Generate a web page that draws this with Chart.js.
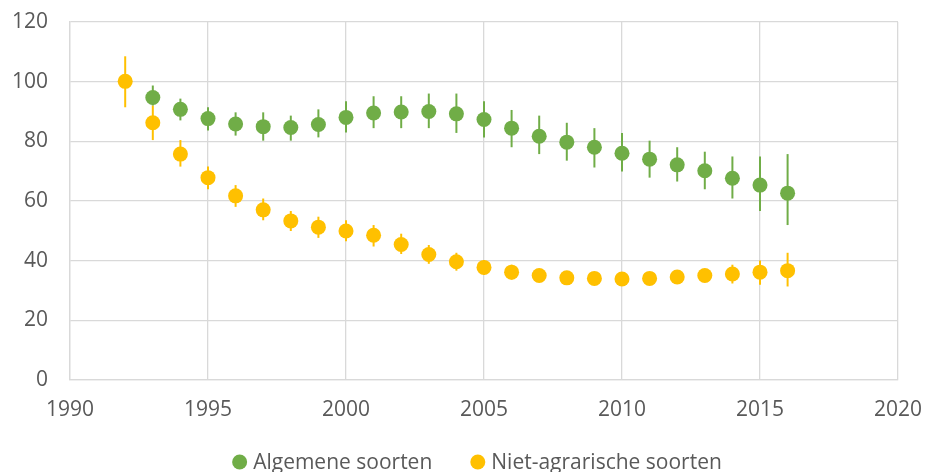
<html>
  <head>
    <script src="https://cdn.jsdelivr.net/npm/chart.js"></script>
    <style>
      body { margin: 0; background: #fff; }
      #wrap { width: 926px; height: 472px; }
    </style>
  </head>
  <body>
    <div id="wrap"><canvas id="graph"></canvas></div>
    <script>
      // jaren
      var years = [1992, 1993, 1994, 1995, 1996, 1997, 1998, 1999, 2000, 2001, 2002, 2003, 2004,
                   2005, 2006, 2007, 2008, 2009, 2010, 2011, 2012, 2013, 2014, 2015, 2016];

      // Algemene soorten (geen waarde in 1992)
      var algemeen     = [null, 94.7, 90.7, 87.6, 85.8, 84.9, 84.6, 85.6, 88.0, 89.5, 89.8, 90.0, 89.2,
                          87.3, 84.4, 81.7, 79.7, 78.0, 76.0, 74.0, 72.1, 70.1, 67.6, 65.3, 62.6];
      var algemeenLaag = [null, 92.0, 87.0, 83.6, 81.9, 80.2, 80.2, 81.3, 82.9, 84.4, 84.4, 84.4, 82.8,
                          81.3, 78.0, 75.7, 73.5, 71.2, 69.9, 67.8, 66.5, 63.9, 60.8, 56.6, 51.9];
      var algemeenHoog = [null, 98.7, 94.3, 91.4, 89.7, 89.7, 88.6, 90.7, 93.4, 95.1, 95.1, 96.0, 96.0,
                          93.4, 90.5, 88.6, 86.2, 84.4, 82.8, 80.2, 78.0, 76.5, 74.9, 74.9, 75.7];

      // Niet-agrarische soorten
      var nietAgr     = [100.1, 86.2, 75.7, 67.8, 61.7, 57.0, 53.3, 51.2, 49.9, 48.5, 45.4, 42.0, 39.6,
                         37.7, 36.1, 35.0, 34.2, 34.0, 33.8, 34.0, 34.5, 35.0, 35.5, 36.1, 36.6];
      var nietAgrLaag = [91.4, 80.4, 71.5, 63.9, 58.0, 53.5, 49.9, 47.6, 46.5, 44.7, 42.2, 38.9, 36.6,
                         35.2, 33.6, 33.0, 32.2, 32.0, 31.8, 32.0, 32.5, 33.0, 32.3, 31.9, 31.3];
      var nietAgrHoog = [108.5, 92.0, 80.4, 71.5, 65.3, 60.8, 56.6, 54.7, 53.5, 51.9, 49.0, 45.2, 42.6,
                         40.2, 38.6, 37.0, 36.2, 36.0, 35.8, 36.0, 36.5, 37.0, 38.6, 40.0, 42.6];

      var green = '#70AD47';
      var yellow = '#FFC000';
      var textColor = '#595959';
      var fontName = "'Open Sans', sans-serif";

      function toPoints(values) {
        var pts = [];
        for (var i = 0; i < years.length; i++) {
          if (values[i] !== null) pts.push({ x: years[i], y: values[i] });
        }
        return pts;
      }

      // foutmarges: verticale lijnen via de schalen van de grafiek
      var errorBars = {
        id: 'errorBars',
        beforeDatasetsDraw: function (chart) {
          var ctx = chart.ctx;
          var xs = chart.scales.x;
          var ys = chart.scales.y;
          var sets = [
            { low: nietAgrLaag, high: nietAgrHoog, color: yellow },
            { low: algemeenLaag, high: algemeenHoog, color: green }
          ];
          ctx.save();
          ctx.lineWidth = 2;
          sets.forEach(function (s) {
            ctx.strokeStyle = s.color;
            for (var i = 0; i < years.length; i++) {
              if (s.low[i] === null) continue;
              var px = xs.getPixelForValue(years[i]);
              ctx.beginPath();
              ctx.moveTo(px, ys.getPixelForValue(s.low[i]));
              ctx.lineTo(px, ys.getPixelForValue(s.high[i]));
              ctx.stroke();
            }
          });
          ctx.restore();
        }
      };

      // eigen legenda onderaan, met ruimere afstand tussen de items
      var bottomLegend = {
        id: 'bottomLegend',
        afterDraw: function (chart) {
          var ctx = chart.ctx;
          var sets = chart.data.datasets;
          var r = 7.5, gapText = 6, gapItem = 38;
          var cx = 477, cy = 462;
          ctx.save();
          ctx.font = '21px ' + fontName;
          ctx.textBaseline = 'middle';
          ctx.textAlign = 'left';
          var total = 0;
          sets.forEach(function (ds, i) {
            total += 2 * r + gapText + ctx.measureText(ds.label).width;
            if (i > 0) total += gapItem;
          });
          var x = cx - total / 2;
          sets.forEach(function (ds) {
            ctx.fillStyle = ds.backgroundColor;
            ctx.beginPath();
            ctx.arc(x + r, cy, r, 0, Math.PI * 2);
            ctx.fill();
            x += 2 * r + gapText;
            ctx.fillStyle = textColor;
            ctx.fillText(ds.label, x, cy + 1);
            x += ctx.measureText(ds.label).width + gapItem;
          });
          ctx.restore();
        }
      };

      var ctx = document.getElementById('graph').getContext('2d');
      var graph = new Chart(ctx, {
        type: 'scatter',
        data: {
          datasets: [{
            label: 'Algemene soorten',
            data: toPoints(algemeen),
            backgroundColor: green,
            borderColor: green,
            pointRadius: 7.5,
            pointHoverRadius: 7.5,
            borderWidth: 0,
            order: 1
          }, {
            label: 'Niet-agrarische soorten',
            data: toPoints(nietAgr),
            backgroundColor: yellow,
            borderColor: yellow,
            pointRadius: 7.5,
            pointHoverRadius: 7.5,
            borderWidth: 0,
            order: 2
          }]
        },
        options: {
          responsive: true,
          maintainAspectRatio: false,
          animation: false,
          layout: { padding: { left: 12, right: 28, top: 22, bottom: 31 } },
          plugins: {
            tooltip: { enabled: false },
            legend: { display: false }
          },
          scales: {
            x: {
              type: 'linear',
              min: 1990,
              max: 2020,
              ticks: {
                stepSize: 5, color: textColor, padding: 18, font: { family: fontName, size: 21 },
                callback: function (v) { return String(v); }
              },
              grid: { color: '#D9D9D9', lineWidth: 1.3, drawTicks: false },
              border: { color: '#D9D9D9', width: 1.3 },
              afterFit: function (s) { s.paddingLeft = 0; s.paddingRight = 0; }
            },
            y: {
              min: 0,
              max: 120,
              ticks: { stepSize: 20, color: textColor, padding: 22, font: { family: fontName, size: 21 } },
              grid: { color: '#D9D9D9', lineWidth: 1.3, drawTicks: false },
              border: { color: '#D9D9D9', width: 1.3 },
              afterFit: function (s) { s.width = 58; s.paddingTop = 0; s.paddingBottom = 0; }
            }
          }
        },
        plugins: [errorBars, bottomLegend]
      });
    </script>
  </body>
</html>
